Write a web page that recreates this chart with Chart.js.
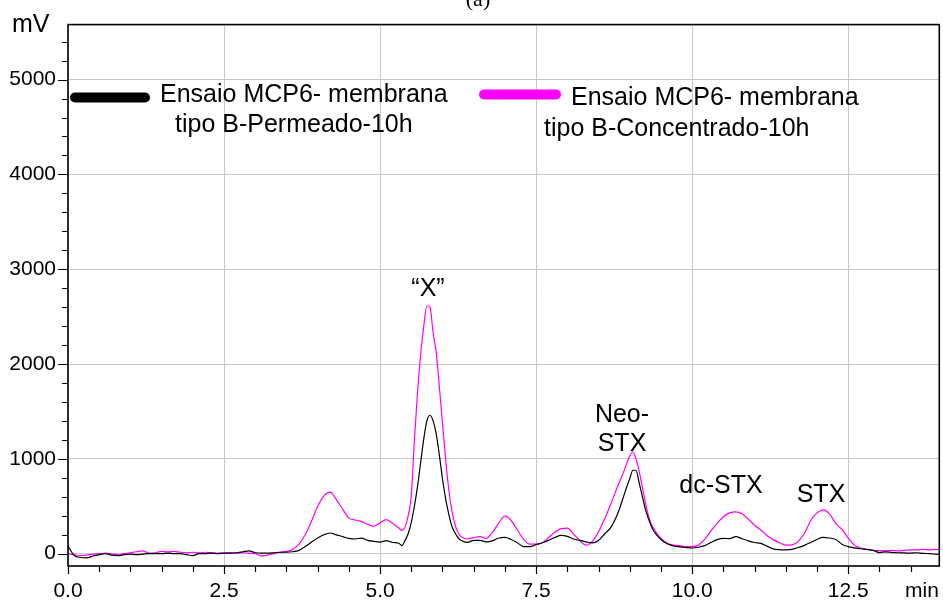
<!DOCTYPE html>
<html>
<head>
<meta charset="utf-8">
<script src="https://cdn.jsdelivr.net/npm/chart.js@4.4.1/dist/chart.umd.min.js"></script>
<style>
  html, body { margin: 0; padding: 0; background: #fff; }
  canvas { display: block; }
</style>
</head>
<body>
<canvas id="c" width="943" height="601"></canvas>
<script>
// Retention time (min)
const times = [
  0.0, 0.1, 0.2, 0.3, 0.4, 0.5, 0.6, 0.7, 0.8, 0.9,
  1.0, 1.1, 1.2, 1.3, 1.4, 1.5, 1.6, 1.7, 1.8, 1.9,
  2.0, 2.1, 2.2, 2.3, 2.4, 2.5, 2.6, 2.7, 2.8, 2.9,
  3.0, 3.1, 3.2, 3.3, 3.4, 3.5, 3.6, 3.7, 3.8, 3.9,
  4.0, 4.1, 4.2, 4.3, 4.4, 4.5, 4.6, 4.7, 4.8, 4.9,
  5.0, 5.1, 5.2, 5.3,
  5.35, 5.4, 5.45, 5.5, 5.55, 5.6, 5.65, 5.7, 5.75, 5.8,
  5.85, 5.9, 5.95, 6.0, 6.05, 6.1, 6.15, 6.2, 6.25, 6.3,
  6.4, 6.5, 6.6, 6.7, 6.8, 6.9, 7.0, 7.1, 7.2, 7.3,
  7.4, 7.5, 7.6, 7.7, 7.8, 7.9, 8.0, 8.1, 8.2, 8.3,
  8.4, 8.5, 8.6, 8.7, 8.8,
  8.85, 8.9, 8.95, 9.0, 9.05, 9.1, 9.15, 9.2, 9.25, 9.3, 9.35, 9.4,
  9.5, 9.6, 9.7, 9.8, 9.9, 10.0, 10.1, 10.2, 10.3, 10.4,
  10.5, 10.6, 10.7, 10.8, 10.9, 11.0, 11.1, 11.2, 11.3, 11.4,
  11.5, 11.6, 11.7, 11.8, 11.9, 12.0, 12.1, 12.2, 12.3, 12.4,
  12.5, 12.6, 12.7, 12.8, 12.9, 13.0, 13.1, 13.2, 13.3, 13.4,
  13.5, 13.6, 13.7, 13.8, 13.9, 14.0
];

// Detector signal (mV), concentrate
const concentrado = [
  0, -10, -20, -15, -5, 0, 5, -5, -10, 0,
  10, 20, 30, 5, 10, 25, 20, 25, 15, 10,
  15, 10, 15, 10, 5, 5, 10, 5, 10, 5,
  0, -25, -15, 0, 15, 25, 45, 100, 200, 340,
  500, 610, 650, 570, 470, 375, 355, 340, 310, 290,
  325, 360, 320, 270,
  245, 280, 400, 610, 1200, 1700, 2100, 2400, 2615, 2600,
  2330, 2120, 1760, 1380, 1000, 680, 460, 310, 220, 180,
  155, 170, 180, 160, 225, 320, 395, 350, 250, 150,
  100, 100, 115, 170, 225, 265, 270, 205, 140, 90,
  130, 230, 370, 530, 700,
  780, 860, 950, 1030, 1075, 1000, 870, 710, 540, 400, 306, 250,
  160, 110, 90, 85, 75, 75, 90, 150, 240, 320,
  390, 430, 440, 420, 365, 300, 250, 190, 148, 115,
  90, 92, 130, 215, 350, 430, 462, 420, 320, 255,
  165, 90, 60, 45, 35, 32, 30, 35, 30, 35,
  40, 40, 45, 40, 45, 42
];

// Detector signal (mV), permeate
const permeado = [
  80, -20, -40, -45, -25, -10, 0, -15, -20, -10,
  -5, -10, -5, 0, 0, 0, 5, 0, 0, -10,
  -20, 0, 0, 5, 0, 5, 5, 10, 20, 30,
  10, 5, 5, 10, 15, 15, 20, 35, 75, 120,
  165, 200, 218, 198, 180, 162, 155, 165, 140, 130,
  122, 138, 118, 110,
  85, 140, 210, 330, 500, 710, 960, 1210, 1400, 1460,
  1400, 1260, 1040, 790, 580, 420, 290, 220, 168, 140,
  120, 140, 140, 125, 135, 165, 172, 150, 115, 75,
  75, 95, 115, 140, 170, 192, 182, 155, 140, 125,
  113, 140, 210, 280, 410,
  500, 600, 700, 790, 880, 880, 750, 610, 470, 370, 285, 225,
  150, 105, 82, 72, 65, 60, 68, 85, 118, 148,
  162, 158, 180, 158, 135, 118, 108, 80, 50, 42,
  40, 45, 65, 88, 118, 150, 172, 165, 150, 100,
  75, 62, 52, 45, 35, 12, 20, 14, 10, 8,
  5, 10, 4, 0, -5, -10
];

// Axis ticks
const xTickValues = [0, 0.5, 1, 1.5, 2, 2.5, 3, 3.5, 4, 4.5, 5, 5.5, 6, 6.5,
  7, 7.5, 8, 8.5, 9, 9.5, 10, 10.5, 11, 11.5, 12, 12.5, 13, 13.5];
const yTickValues = [0, 200, 400, 600, 800, 1000, 1200, 1400, 1600, 1800,
  2000, 2200, 2400, 2600, 2800, 3000, 3200, 3400, 3600, 3800,
  4000, 4200, 4400, 4600, 4800, 5000, 5200, 5400];

// Legend and annotation texts
const legendPermeado = ['Ensaio MCP6- membrana', 'tipo B-Permeado-10h'];
const legendConcentrado = ['Ensaio MCP6- membrana', 'tipo B-Concentrado-10h'];
const peakNames = ['\u201CX\u201D', 'Neo-', 'STX', 'dc-STX', 'STX'];

const SANS = '"Liberation Sans", Arial, Helvetica, sans-serif';
const SERIF = '"Liberation Serif", "Times New Roman", serif';
const MAGENTA = '#ff00ff';

// Frame, tick marks, legend swatches and text annotations
const decor = {
  id: 'decor',
  afterDraw(chart) {
    const { ctx, chartArea: a } = chart;
    const x = chart.scales.x, y = chart.scales.y;
    ctx.save();

    // tick marks
    ctx.strokeStyle = '#000';
    ctx.lineWidth = 1.2;
    ctx.beginPath();
    yTickValues.forEach(v => {
      const py = Math.round(y.getPixelForValue(v)) + 0.5;
      const len = v % 1000 === 0 ? 10 : 6;
      ctx.moveTo(a.left - len, py);
      ctx.lineTo(a.left, py);
    });
    xTickValues.forEach(v => {
      const px = Math.round(x.getPixelForValue(v)) + 0.5;
      const len = v % 2.5 === 0 ? 8 : 6;
      ctx.moveTo(px, a.bottom);
      ctx.lineTo(px, a.bottom + len);
    });
    ctx.stroke();

    // plot frame
    ctx.lineWidth = 1.6;
    ctx.strokeRect(a.left, a.top, a.right - a.left, a.bottom - a.top);

    // legend swatches
    ctx.lineCap = 'round';
    ctx.lineWidth = 10;
    ctx.strokeStyle = '#000';
    ctx.beginPath(); ctx.moveTo(75, 97.5); ctx.lineTo(145, 97.5); ctx.stroke();
    ctx.strokeStyle = MAGENTA;
    ctx.beginPath(); ctx.moveTo(484, 94.5); ctx.lineTo(556, 94.5); ctx.stroke();

    // texts
    ctx.fillStyle = '#000';
    ctx.textBaseline = 'alphabetic';
    ctx.font = '25px ' + SANS;
    ctx.textAlign = 'left';
    ctx.fillText(legendPermeado[0], 160, 102);
    ctx.fillText(legendPermeado[1], 175, 132);
    ctx.fillText(legendConcentrado[0], 571, 105);
    ctx.fillText(legendConcentrado[1], 544, 136);

    ctx.textAlign = 'center';
    ctx.fillText(peakNames[0], 428, 296);
    ctx.fillText(peakNames[1], 622, 422);
    ctx.fillText(peakNames[2], 622, 451);
    ctx.fillText(peakNames[3], 721, 493);
    ctx.fillText(peakNames[4], 821, 502);

    ctx.textAlign = 'left';
    ctx.fillText('mV', 12, 32);

    ctx.font = '21px ' + SANS;
    ctx.fillText('min', 905, 597);

    ctx.font = '22px ' + SERIF;
    ctx.textAlign = 'center';
    ctx.fillText('(a)', 478, 6);

    ctx.restore();
  }
};

new Chart(document.getElementById('c'), {
  type: 'line',
  data: {
    datasets: [
      {
        label: legendPermeado.join(' '),
        data: times.map((t, i) => ({ x: t, y: permeado[i] })),
        borderColor: '#000',
        borderWidth: 1.2,
        pointRadius: 0,
        cubicInterpolationMode: 'monotone',
        order: 0
      },
      {
        label: legendConcentrado.join(' '),
        data: times.map((t, i) => ({ x: t, y: concentrado[i] })),
        borderColor: MAGENTA,
        borderWidth: 1.2,
        pointRadius: 0,
        cubicInterpolationMode: 'monotone',
        order: 1
      }
    ]
  },
  options: {
    responsive: false,
    animation: false,
    devicePixelRatio: 1,
    layout: { padding: { top: 24, right: 3.7, left: 0, bottom: 0 } },
    plugins: { legend: { display: false }, tooltip: { enabled: false } },
    scales: {
      x: {
        type: 'linear',
        min: 0,
        max: 13.96,
        afterBuildTicks: s => { s.ticks = xTickValues.map(v => ({ value: v })); },
        afterFit: s => { s.height = 35; },
        border: { display: false },
        grid: {
          drawTicks: false,
          lineWidth: 1,
          color: c => (c.tick && c.tick.value % 2.5 === 0) ? '#c8c8c8' : 'rgba(0,0,0,0)'
        },
        ticks: {
          autoSkip: false,
          maxRotation: 0,
          padding: 13,
          color: '#000',
          font: { family: SANS, size: 21 },
          callback: v => v % 2.5 === 0 ? v.toFixed(1) : ''
        }
      },
      y: {
        type: 'linear',
        min: -130,
        max: 5580,
        afterBuildTicks: s => { s.ticks = yTickValues.map(v => ({ value: v })); },
        afterFit: s => { s.width = 68; },
        border: { display: false },
        grid: {
          drawTicks: false,
          lineWidth: 1,
          color: c => (c.tick && c.tick.value % 1000 === 0) ? '#c8c8c8' : 'rgba(0,0,0,0)'
        },
        ticks: {
          autoSkip: false,
          padding: 12,
          color: '#000',
          font: { family: SANS, size: 21 },
          callback: v => v % 1000 === 0 ? String(v) : ''
        }
      }
    }
  },
  plugins: [decor]
});
</script>
</body>
</html>
